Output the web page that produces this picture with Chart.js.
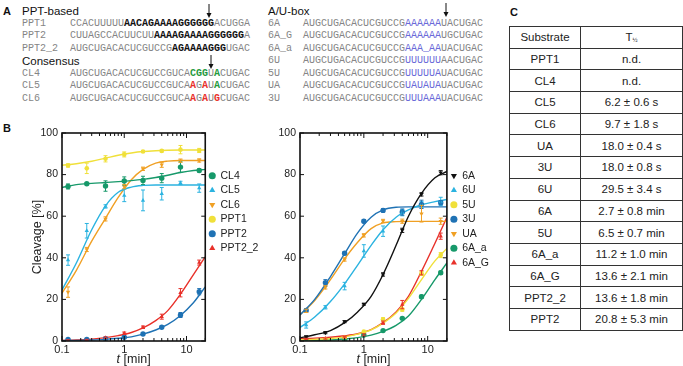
<!DOCTYPE html>
<html>
<head>
<meta charset="utf-8">
<script src="https://cdn.jsdelivr.net/npm/chart.js@4.4.1/dist/chart.umd.min.js"></script>
<style>
  body { margin: 0; background: #fff; width: 683px; height: 366px; position: relative; overflow: hidden;
         font-family: Arial, "Liberation Sans", sans-serif; color: #222; }
  .lbl { position: absolute; font-weight: bold; font-size: 11px; line-height: 12px; color: #111; }
  .hdr { position: absolute; font-size: 11.5px; line-height: 13px; color: #111; }
  .seq { position: absolute; font-family: "Liberation Mono", "DejaVu Sans Mono", monospace; font-size: 10px;
         line-height: 12.5px; color: #858585; white-space: pre; }
  .seq b { color: #111; }
  .g { color: #1f9a3c; font-weight: bold; }
  .r { color: #e8312a; font-weight: bold; }
  .u { color: #6a6ad8; }
  svg.arr { position: absolute; }
  table { position: absolute; left: 509px; top: 26px; border-collapse: collapse; font-size: 11.5px; color: #222; }
  td { border: 1.6px solid #333; padding: 0; text-align: center; }
  tr { height: 21.7px; }
  td.c1 { width: 70px; }
  td.c2 { width: 101px; }
  sub { font-size: 6px; vertical-align: -1px; }
  canvas { position: absolute; }
</style>
</head>
<body>

<!-- panel A -->
<div class="lbl" style="left:3px;top:5px">A</div>
<div class="hdr" style="left:22px;top:5px">PPT-based</div>
<div class="hdr" style="left:22px;top:55px">Consensus</div>
<div class="hdr" style="left:268px;top:5px">A/U-box</div>

<div class="seq" style="left:22px;top:17.75px">PPT1
PPT2
PPT2_2

CL4
CL5
CL6</div>
<div class="seq" style="left:70px;top:17.75px">CCACUUUUU<b>AACAGAAAAGGGGGG</b>ACUGGA
CUUAGCCACUUCUU<b>AAAAGAAAAGGGGGG</b>A
AUGCUGACACUCGUCCG<b>AGAAAAGGG</b>UGAC

AUGCUGACACUCGUCCGUCA<span class="g">CGG</span>U<span class="g">A</span>CUGAC
AUGCUGACACUCGUCCGUCA<span class="r">A</span>G<span class="r">A</span>U<span class="g">A</span>CUGAC
AUGCUGACACUCGUCCGUCA<span class="r">A</span>G<span class="r">A</span>U<span class="r">G</span>CUGAC</div>

<div class="seq" style="left:268px;top:17.75px">6A
6A_G
6A_a
6U
5U
UA
3U</div>
<div class="seq" style="left:303px;top:17.75px">AUGCUGACACUCGUCCG<span class="u">AAAAAA</span>UACUGAC
AUGCUGACACUCGUCCG<span class="u">AAAAAA</span>UGCUGAC
AUGCUGACACUCGUCCG<span class="u">AAA_AA</span>UACUGAC
AUGCUGACACUCGUCCG<span class="u">UUUUUU</span>AACUGAC
AUGCUGACACUCGUCCG<span class="u">UUUUUA</span>UACUGAC
AUGCUGACACUCGUCCG<span class="u">UAUAUA</span>UACUGAC
AUGCUGACACUCGUCCG<span class="u">UUUAAA</span>UACUGAC</div>

<svg class="arr" style="left:205px;top:4px" width="8" height="15"><line x1="4" y1="0" x2="4" y2="11" stroke="#111" stroke-width="1"/><polygon points="1.5,9 6.5,9 4,14" fill="#111"/></svg>
<svg class="arr" style="left:207px;top:55px" width="8" height="15"><line x1="4" y1="0" x2="4" y2="11" stroke="#111" stroke-width="1"/><polygon points="1.5,9 6.5,9 4,14" fill="#111"/></svg>
<svg class="arr" style="left:442px;top:3px" width="8" height="15"><line x1="4" y1="0" x2="4" y2="11" stroke="#111" stroke-width="1"/><polygon points="1.5,9 6.5,9 4,14" fill="#111"/></svg>

<!-- panel B -->
<div class="lbl" style="left:3px;top:122px">B</div>
<canvas id="chartLeft" width="247" height="246" style="left:20px;top:120px"></canvas>
<canvas id="chartRight" width="241" height="246" style="left:258px;top:120px"></canvas>

<!-- panel C -->
<div class="lbl" style="left:510px;top:6px">C</div>
<table>
  <tr><td class="c1">Substrate</td><td class="c2">T<sub>½</sub></td></tr>
  <tr><td>PPT1</td><td>n.d.</td></tr>
  <tr><td>CL4</td><td>n.d.</td></tr>
  <tr><td>CL5</td><td>6.2 ± 0.6 s</td></tr>
  <tr><td>CL6</td><td>9.7 ± 1.8 s</td></tr>
  <tr><td>UA</td><td>18.0 ± 0.4 s</td></tr>
  <tr><td>3U</td><td>18.0 ± 0.8 s</td></tr>
  <tr><td>6U</td><td>29.5 ± 3.4 s</td></tr>
  <tr><td>6A</td><td>2.7 ± 0.8 min</td></tr>
  <tr><td>5U</td><td>6.5 ± 0.7 min</td></tr>
  <tr><td>6A_a</td><td>11.2 ± 1.0 min</td></tr>
  <tr><td>6A_G</td><td>13.6 ± 2.1 min</td></tr>
  <tr><td>PPT2_2</td><td>13.6 ± 1.8 min</td></tr>
  <tr><td>PPT2</td><td>20.8 ± 5.3 min</td></tr>
</table>

<script>
// time points (min) for measured data and for the drawn fit curves
const tPts = [0.125, 0.25, 0.5, 1, 2, 4, 8, 16];
const tFit = [0.1, 0.17, 0.3, 0.5, 0.8, 1.3, 2, 3.2, 5, 8, 13, 20];
const xMajor = [0.1, 1, 10];
const xMinor = [0.2, 0.3, 0.4, 0.5, 0.6, 0.7, 0.8, 0.9, 2, 3, 4, 5, 6, 7, 8, 9, 20];
const yTicks = [0, 20, 40, 60, 80, 100];

// left panel: cleavage [%]
const cl4 = [74.3, 75.6, 74.5, 76.9, 77.2, 78.3, 83.6, 82.0];
const cl4Err = [1.2, 0.5, 2.5, 2, 2, 2.2, 2.5, 0.8];
const cl4Fit = [73.8, 75.2, 75.8, 76.2, 76.6, 77.1, 77.7, 78.6, 79.7, 81.0, 82.0, 82.5];

const cl5 = [38.9, 53.0, 64.7, 70.0, 67.6, 70.8, 76.0, 73.5];
const cl5Err = [2.5, 3.5, 0.8, 3, 5, 3, 0.8, 2];
const cl5Fit = [24.5, 37.5, 53.5, 65, 71.5, 74, 74.8, 75, 75, 75, 75, 75];

const cl6 = [23.5, 44.0, 58.7, 74.2, 82.8, 84.7, 86.7, 86.8];
const cl6Err = [2.5, 1, 1, 1, 0.8, 1.2, 0.8, 0.8];
const cl6Fit = [23, 34, 48, 59, 69, 77.5, 82.5, 85.5, 86.5, 86.8, 86.8, 86.8];

const ppt1 = [84.4, 83.0, 87.6, 89.7, 91.1, 91.4, 92.0, 91.6];
const ppt1Err = [0.8, 2.5, 1.5, 1.2, 0.5, 0.5, 2, 1];
const ppt1Fit = [84.5, 85.2, 86.4, 87.9, 89.3, 90.4, 91.1, 91.5, 91.7, 91.8, 91.8, 91.8];

const ppt2 = [0.8, 0.8, 1.1, 1.8, 3.4, 6.6, 12.5, 23.7];
const ppt2Err = [0.3, 0.3, 0.3, 0.4, 0.5, 0.6, 1.2, 1.5];
const ppt2Fit = [0.2, 0.3, 0.5, 0.8, 1.3, 2, 3.3, 5.3, 8, 12.3, 18.5, 26];

const ppt2_2 = [0.3, 0.5, 1.6, 3.7, 6.6, 11.7, 23.2, 37.7];
const ppt2_2Err = [0.3, 0.3, 0.4, 0.6, 0.6, 1.2, 2, 1.2];
const ppt2_2Fit = [0.3, 0.5, 0.9, 1.6, 2.6, 4.1, 6.3, 9.8, 14.6, 22.5, 32, 40.5];

// right panel
const a6 = [2.0, 4.0, 9.3, 17.7, 32.0, 53.2, 70.5, 80.9];
const a6Err = [0.5, 0.5, 0.5, 0.5, 0.8, 1, 0.8, 1];
const a6Fit = [1.5, 3, 5, 8.8, 14, 21.5, 32, 46, 60, 71, 78.5, 81.5];

const u6 = [7.7, 16.2, 26.4, 43.3, 52.8, 61.7, 65.5, 67.1];
const u6Err = [1.5, 0.8, 1.8, 3, 2.5, 1.5, 1.5, 2];
const u6Fit = [6.5, 11.5, 19, 27.5, 36.5, 46, 53.5, 59.5, 63, 65.5, 67, 68];

const u5 = [0.5, 0.8, 1.5, 4.5, 10.4, 15.1, 32.5, 41.3];
const u5Err = [0.3, 0.3, 0.3, 0.3, 0.8, 0.8, 1, 1.2];
const u5Fit = [0.5, 0.8, 1.2, 2, 3.3, 5.3, 8.6, 13.5, 20.5, 29.5, 38.5, 44.5];

const u3 = [14.7, 28.0, 42.2, 57.6, 62.8, 62.0, 65.7, 66.5];
const u3Err = [0.8, 1.5, 0.8, 0.8, 0.8, 1.5, 2, 1];
const u3Fit = [12.5, 20, 31, 42, 52, 59.5, 63, 64.3, 64.5, 64.5, 64.5, 64.5];

const ua = [14.5, 25.8, 39.2, 50.8, 57.7, 57.6, 61.2, 57.6];
const uaErr = [0.8, 0.8, 0.8, 0.8, 0.8, 1, 4, 1.5];
const uaFit = [12.5, 19.5, 29.5, 39.5, 47.5, 54, 56.8, 57.4, 57.5, 57.5, 57.5, 57.5];

const a6a = [0.0, 0.2, 0.5, 2.9, 5.0, 10.9, 21.3, 32.8];
const a6aErr = [0.2, 0.2, 0.2, 0.3, 0.3, 0.5, 0.8, 0.8];
const a6aFit = [0.1, 0.3, 0.5, 1, 1.6, 2.8, 4.6, 7.5, 12, 20, 29.5, 37.5];

const a6G = [1.0, 1.2, 1.8, 3.0, 8.8, 17.5, 32.8, 50.4];
const a6GErr = [0.3, 0.3, 0.3, 0.5, 0.8, 2, 1, 1.5];
const a6GFit = [1.2, 1.4, 1.8, 2.5, 3.5, 5.5, 8.8, 14, 21.5, 33.5, 47, 59.5];

const GREEN = "#17996a", CYAN = "#2bb3e0", ORANGE = "#f0a024", YELLOW = "#f0e03a",
      BLUE = "#1f72b4", RED = "#e8312a", BLACK = "#111111";
const FONT = "Arial, 'Liberation Sans', sans-serif";

const leftSeries = [
  { label: "CL4", pts: cl4, err: cl4Err, fit: cl4Fit, color: GREEN, style: "circle", rot: 0, r: 2.7 },
  { label: "CL5", pts: cl5, err: cl5Err, fit: cl5Fit, color: CYAN, style: "triangle", rot: 0, r: 2.5 },
  { label: "CL6", pts: cl6, err: cl6Err, fit: cl6Fit, color: ORANGE, style: "triangle", rot: 180, r: 2.5 },
  { label: "PPT1", pts: ppt1, err: ppt1Err, fit: ppt1Fit, color: YELLOW, style: "circle", rot: 0, r: 2.3 },
  { label: "PPT2", pts: ppt2, err: ppt2Err, fit: ppt2Fit, color: BLUE, style: "circle", rot: 0, r: 2.7 },
  { label: "PPT2_2", pts: ppt2_2, err: ppt2_2Err, fit: ppt2_2Fit, color: RED, style: "triangle", rot: 0, r: 2.5 },
];
const rightSeries = [
  { label: "6A", pts: a6, err: a6Err, fit: a6Fit, color: BLACK, style: "triangle", rot: 180, r: 2.5 },
  { label: "6U", pts: u6, err: u6Err, fit: u6Fit, color: CYAN, style: "triangle", rot: 0, r: 2.5 },
  { label: "5U", pts: u5, err: u5Err, fit: u5Fit, color: YELLOW, style: "circle", rot: 0, r: 2.3 },
  { label: "3U", pts: u3, err: u3Err, fit: u3Fit, color: BLUE, style: "circle", rot: 0, r: 2.7 },
  { label: "UA", pts: ua, err: uaErr, fit: uaFit, color: ORANGE, style: "triangle", rot: 180, r: 2.5 },
  { label: "6A_a", pts: a6a, err: a6aErr, fit: a6aFit, color: GREEN, style: "circle", rot: 0, r: 2.7 },
  { label: "6A_G", pts: a6G, err: a6GErr, fit: a6GFit, color: RED, style: "triangle", rot: 0, r: 2.5 },
];

// Error bars
const errorBars = {
  id: "errorBars",
  afterDatasetsDraw(chart) {
    const { ctx, chartArea: a } = chart;
    const y = chart.scales.y;
    ctx.save();
    ctx.beginPath();
    ctx.rect(a.left, a.top, a.right - a.left, a.bottom - a.top);
    ctx.clip();
    chart.data.datasets.forEach(function (ds, di) {
      if (!ds.errs) return;
      const meta = chart.getDatasetMeta(di);
      ctx.strokeStyle = ds.borderColor;
      ctx.lineWidth = 1;
      ctx.beginPath();
      meta.data.forEach(function (pt, i) {
        const v = ds.data[i].y, e = ds.errs[i];
        const top = y.getPixelForValue(v + e), bot = y.getPixelForValue(v - e);
        ctx.moveTo(pt.x, top); ctx.lineTo(pt.x, bot);
        ctx.moveTo(pt.x - 2, top); ctx.lineTo(pt.x + 2, top);
        ctx.moveTo(pt.x - 2, bot); ctx.lineTo(pt.x + 2, bot);
      });
      ctx.stroke();
    });
    ctx.restore();
  },
};

// Box frame, inward ticks, x title
const frame = {
  id: "frame",
  afterDraw(chart) {
    const { ctx, chartArea: a } = chart;
    const x = chart.scales.x, y = chart.scales.y;
    ctx.save();
    ctx.strokeStyle = "#111";
    ctx.lineWidth = 1;
    ctx.beginPath();
    xMajor.forEach(function (v) {
      const px = x.getPixelForValue(v);
      ctx.moveTo(px, a.bottom); ctx.lineTo(px, a.bottom - 5);
      ctx.moveTo(px, a.top); ctx.lineTo(px, a.top + 5);
    });
    xMinor.forEach(function (v) {
      const px = x.getPixelForValue(v);
      if (px > a.right) return;
      ctx.moveTo(px, a.bottom); ctx.lineTo(px, a.bottom - 3);
      ctx.moveTo(px, a.top); ctx.lineTo(px, a.top + 3);
    });
    yTicks.forEach(function (v) {
      const py = y.getPixelForValue(v);
      ctx.moveTo(a.left, py); ctx.lineTo(a.left + 4, py);
      ctx.moveTo(a.right, py); ctx.lineTo(a.right - 4, py);
    });
    ctx.stroke();
    ctx.lineWidth = 1.6;
    ctx.strokeRect(a.left, a.top, a.right - a.left, a.bottom - a.top);

    ctx.fillStyle = "#222";
    ctx.textBaseline = "middle";
    ctx.font = "italic 12.5px " + FONT;
    const w1 = ctx.measureText("t").width;
    ctx.font = "12.5px " + FONT;
    const w2 = ctx.measureText(" [min]").width;
    const cx = (a.left + a.right) / 2 - (w1 + w2) / 2;
    const ty = a.bottom + 19;
    ctx.font = "italic 12.5px " + FONT;
    ctx.fillText("t", cx, ty);
    ctx.font = "12.5px " + FONT;
    ctx.fillText(" [min]", cx + w1, ty);
    ctx.restore();
  },
};

function makeChart(id, series, yTitle) {
  const datasets = [];
  series.forEach(function (s) {
    datasets.push({
      label: s.label,
      data: tPts.map(function (t, i) { return { x: t, y: s.pts[i] }; }),
      errs: s.err,
      backgroundColor: s.color,
      borderColor: s.color,
      pointStyle: s.style,
      rotation: s.rot,
      pointRadius: s.r,
      pointBorderWidth: 0,
      showLine: false,
    });
  });
  series.forEach(function (s) {
    datasets.push({
      label: s.label + " fit",
      isFit: true,
      data: tFit.map(function (t, i) { return { x: t, y: s.fit[i] }; }),
      borderColor: s.color,
      backgroundColor: s.color,
      borderWidth: 1.4,
      pointRadius: 0,
      showLine: true,
      cubicInterpolationMode: "monotone",
      fill: false,
    });
  });

  return new Chart(document.getElementById(id).getContext("2d"), {
    type: "scatter",
    data: { datasets: datasets },
    options: {
      responsive: false,
      animation: false,
      layout: { padding: { top: 13, right: 0, bottom: 0, left: 0 } },
      plugins: {
        tooltip: { enabled: false },
        legend: {
          position: "right",
          align: "start",
          title: { display: true, text: "", font: { size: 10 }, padding: { top: 21.5, bottom: 0 } },
          labels: {
            filter: function (item, data) { return !data.datasets[item.datasetIndex].isFit; },
            usePointStyle: true,
            boxWidth: 6,
            boxHeight: 5,
            padding: 4,
            color: "#222",
            font: { family: FONT, size: 10.5 },
          },
        },
      },
      scales: {
        x: {
          type: "logarithmic",
          min: 0.1,
          max: 20,
          grid: { display: false, drawTicks: false },
          border: { display: false },
          afterBuildTicks: function (axis) {
            axis.ticks = xMajor.map(function (v) { return { value: v, major: true }; });
          },
          afterFit: function (axis) { axis.height = 25; },
          ticks: {
            autoSkip: false,
            maxRotation: 0,
            padding: 2,
            color: "#222",
            font: { family: FONT, size: 11 },
            callback: function (v) { return String(v); },
          },
        },
        y: {
          min: 0,
          max: 100,
          grid: { display: false, drawTicks: false },
          border: { display: false },
          afterFit: function (axis) { axis.width = 42; },
          title: {
            display: !!yTitle,
            text: yTitle || "",
            color: "#222",
            padding: { top: 10, bottom: 0 },
            font: { family: FONT, size: 12.5 },
          },
          ticks: {
            stepSize: 20,
            padding: 4,
            color: "#222",
            font: { family: FONT, size: 10.5 },
          },
        },
      },
    },
    plugins: [errorBars, frame],
  });
}

makeChart("chartLeft", leftSeries, "Cleavage [%]");
makeChart("chartRight", rightSeries, "");
</script>
</body>
</html>
